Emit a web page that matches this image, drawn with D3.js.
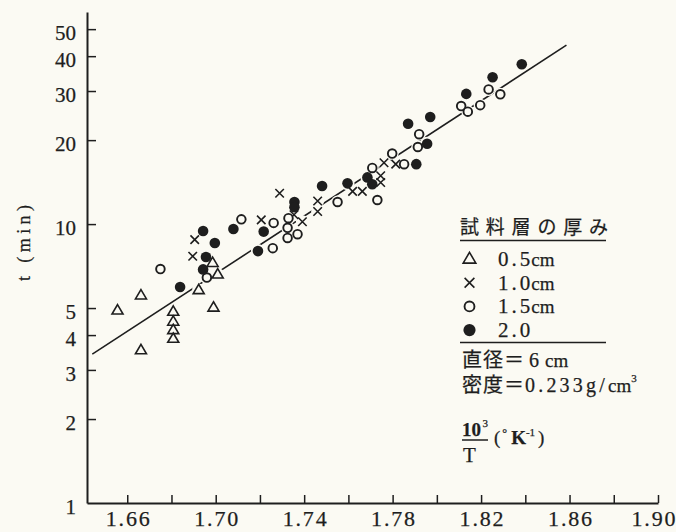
<!DOCTYPE html>
<html>
<head>
<meta charset="utf-8">
<script src="https://cdn.jsdelivr.net/npm/d3@7"></script>
<style>
  html, body { margin: 0; padding: 0; background: #fbfaf3; }
  svg { display: block; }
  text { fill: #1e1e1e; font-family: "Liberation Serif", "Noto Sans CJK JP", serif; stroke: #1e1e1e; stroke-width: 0.25px; }
</style>
</head>
<body>
<svg id="chart" width="676" height="532"></svg>
<script>
// ---------- data (10^3/T, t[min]) ----------
const series05 = [
  [1.6556, 4.9], [1.6662, 5.55], [1.6662, 3.53], [1.6808, 4.85], [1.6808, 4.47],
  [1.6808, 4.17], [1.6808, 3.88], [1.6923, 5.8], [1.6990, 5.02], [1.6986, 7.26], [1.7009, 6.6]
];
const series10 = [
  [1.6905, 8.8], [1.6896, 7.67], [1.7289, 12.9], [1.7206, 10.35], [1.7354, 10.8],
  [1.7392, 10.2], [1.7461, 12.1], [1.7461, 11.1], [1.7619, 13.1], [1.7663, 13.1],
  [1.7746, 14.1], [1.7746, 14.9], [1.7761, 16.6], [1.7814, 16.4]
];
const series15 = [
  [1.6750, 6.9], [1.6960, 6.43], [1.7116, 10.4], [1.7258, 8.2], [1.7262, 10.1],
  [1.7325, 8.92], [1.7325, 9.7], [1.7329, 10.5], [1.7370, 9.2], [1.7551, 12.0],
  [1.7708, 15.9], [1.7731, 12.2], [1.7798, 17.9], [1.7852, 16.4], [1.7914, 18.9],
  [1.7920, 21.0], [1.8110, 26.5], [1.8140, 25.3], [1.8196, 26.7], [1.8234, 30.4], [1.8287, 29.2]
];
const series20 = [
  [1.6839, 5.95], [1.6943, 9.44], [1.6956, 7.62], [1.6943, 6.88], [1.6996, 8.55],
  [1.7080, 9.6], [1.7191, 8.0], [1.7217, 9.4], [1.7356, 12.0], [1.7356, 11.5],
  [1.7481, 13.7], [1.7596, 14.0], [1.7686, 14.7], [1.7708, 13.9], [1.7870, 22.9],
  [1.7907, 16.4], [1.7956, 19.4], [1.7970, 24.2], [1.8133, 29.3], [1.8252, 33.6], [1.8384, 37.4]
];
const fitLine = [[1.6442, 3.42], [1.8586, 43.8]];

const xTicks = [1.66, 1.68, 1.70, 1.72, 1.74, 1.76, 1.78, 1.80, 1.82, 1.84, 1.86, 1.88, 1.90];
const xLabels = [1.66, 1.70, 1.74, 1.78, 1.82, 1.86, 1.90];
const yTicks = [1, 2, 3, 4, 5, 10, 20, 30, 40, 50];
const legendNums = ["0.5", "1.0", "1.5", "2.0"];
const legendUnits = ["cm", "cm", "cm", ""];

// ---------- scales ----------
const BG = "#fbfaf3", INK = "#1e1e1e";
const svg = d3.select("#chart");
const x = d3.scaleLinear().domain([1.6418, 1.90]).range([87, 658]);
const y = d3.scaleLog().domain([1, 57.6]).range([503, 12]);

// ---------- axes ----------
const xAxis = d3.axisBottom(x)
  .tickValues(xTicks)
  .tickSizeInner(-8).tickSizeOuter(0).tickPadding(8)
  .tickFormat(d => xLabels.some(v => Math.abs(v - d) < 1e-9) ? d3.format(".2f")(d) : "");
const gx = svg.append("g").attr("transform", `translate(0,${y(1)})`).call(xAxis);
gx.select(".domain").attr("stroke", INK).attr("stroke-width", 2);
gx.selectAll(".tick line").attr("stroke", INK).attr("stroke-width", 1.5);
gx.selectAll(".tick text")
  .attr("font-size", 22).attr("font-family", "Liberation Serif")
  .attr("fill", INK).attr("dy", "0.66em")
  .each(function(d) {
    if (!this.textContent) return;
    const t = d3.select(this).attr("textLength", 44).attr("lengthAdjust", "spacing");
    if (Math.abs(d - 1.90) < 1e-9) t.attr("text-anchor", "end").attr("x", 675 - x(d));
  });

const yAxis = d3.axisLeft(y)
  .tickValues(yTicks)
  .tickSizeInner(-9).tickSizeOuter(0).tickPadding(11)
  .tickFormat(d3.format("d"));
const gy = svg.append("g").attr("transform", `translate(${x(1.6418)},0)`).call(yAxis);
gy.select(".domain").attr("stroke", INK).attr("stroke-width", 2);
gy.selectAll(".tick line").attr("stroke", INK).attr("stroke-width", 1.5)
  .attr("display", d => d === 1 ? "none" : null);
gy.selectAll(".tick text")
  .attr("font-size", 21).attr("font-family", "Liberation Serif")
  .attr("fill", INK).attr("dy", "0.5em");

// y axis title
svg.append("text")
  .attr("transform", "translate(30,243) rotate(-90)")
  .attr("text-anchor", "middle")
  .attr("font-size", 18)
  .attr("textLength", 76).attr("lengthAdjust", "spacing")
  .text("t (min)");

// ---------- fit line ----------
svg.append("path")
  .datum(fitLine)
  .attr("d", d3.line().x(d => x(d[0])).y(d => y(d[1])))
  .attr("fill", "none").attr("stroke", INK).attr("stroke-width", 1.6);

// ---------- markers ----------
function triPath(s) { const h = s * 0.85; return `M0,${-h*0.62}L${s/2},${h*0.38}L${-s/2},${h*0.38}Z`; }
function crossPath(s) { const a = s / 2; return `M${-a},${-a}L${a},${a}M${-a},${a}L${a},${-a}`; }

const all = [
  { data: series05, type: "tri" }, { data: series10, type: "cross" },
  { data: series15, type: "open" }, { data: series20, type: "fill" }
];
const halo = svg.append("g");
all.forEach(s => {
  halo.selectAll(null).data(s.data).enter().append("circle")
    .attr("cx", d => x(d[0])).attr("cy", d => y(d[1]))
    .attr("r", s.type === "fill" ? 7 : 6.5).attr("fill", BG);
});

function drawMarker(g, type, cx, cy, k) {
  if (type === "tri") {
    g.append("path").attr("d", triPath(11 * k)).attr("transform", `translate(${cx},${cy})`)
      .attr("fill", BG).attr("stroke", INK).attr("stroke-width", 1.6).attr("stroke-linejoin", "miter");
  } else if (type === "cross") {
    g.append("path").attr("d", crossPath(8.5 * k)).attr("transform", `translate(${cx},${cy})`)
      .attr("fill", "none").attr("stroke", INK).attr("stroke-width", 1.6);
  } else if (type === "open") {
    g.append("circle").attr("cx", cx).attr("cy", cy).attr("r", 4.3 * k)
      .attr("fill", BG).attr("stroke", INK).attr("stroke-width", 1.9);
  } else {
    g.append("circle").attr("cx", cx).attr("cy", cy).attr("r", 5.3 * k).attr("fill", INK);
  }
}
const marks = svg.append("g");
all.forEach(s => s.data.forEach(d => drawMarker(marks, s.type, x(d[0]), y(d[1]), 1)));

// ---------- legend ----------
const lg = svg.append("g");
lg.append("text").attr("x", 460).attr("y", 234)
  .attr("font-family", "Noto Sans CJK JP").attr("font-size", 19)
  .attr("textLength", 148).attr("lengthAdjust", "spacing")
  .text("試料層の厚み");
lg.append("line").attr("x1", 460).attr("x2", 606).attr("y1", 240.5).attr("y2", 240.5)
  .attr("stroke", INK).attr("stroke-width", 1.5);
const types = ["tri", "cross", "open", "fill"];
legendNums.forEach((num, i) => {
  const by = 266 + i * 23.7;
  drawMarker(lg, types[i], 469.5, by - 7, 1.15);
  const t = lg.append("text").attr("x", 498).attr("y", by).attr("font-size", 21);
  t.append("tspan").attr("letter-spacing", 3).text(num);
  if (legendUnits[i]) t.append("tspan").attr("font-size", 19).attr("dx", -2).text(legendUnits[i]);
});
lg.append("line").attr("x1", 460).attr("x2", 606).attr("y1", 342.5).attr("y2", 342.5)
  .attr("stroke", INK).attr("stroke-width", 1.5);
const dia = lg.append("text").attr("x", 462).attr("y", 367).attr("font-size", 20);
dia.append("tspan").attr("letter-spacing", 1).text("直径＝");
dia.append("tspan").attr("dx", 4).text("6");
dia.append("tspan").attr("dx", 6).attr("font-size", 19).text("cm");
const den = lg.append("text").attr("x", 462).attr("y", 392).attr("font-size", 20);
den.append("tspan").attr("letter-spacing", 1).text("密度＝");
den.append("tspan").attr("letter-spacing", 3.2).text("0.233g/");
den.append("tspan").attr("font-size", 19).text("cm");
den.append("tspan").attr("font-size", 11).attr("dy", -10).text("3");

// 10^3 / T (°K^-1)
lg.append("text").attr("x", 462).attr("y", 436).attr("font-size", 19).attr("font-weight", "bold").text("10");
lg.append("text").attr("x", 482.5).attr("y", 427).attr("font-size", 11).text("3");
lg.append("line").attr("x1", 462).attr("x2", 488).attr("y1", 440).attr("y2", 440)
  .attr("stroke", INK).attr("stroke-width", 1.5);
lg.append("text").attr("x", 463).attr("y", 462).attr("font-size", 21).text("T");
const unit = lg.append("text").attr("x", 494).attr("y", 444).attr("font-size", 19);
unit.append("tspan").text("(");
unit.append("tspan").attr("font-size", 12).attr("dy", -7).attr("dx", 2).text("°");
unit.append("tspan").attr("font-size", 19).attr("dy", 7).attr("dx", 4).attr("font-weight", "bold").text("K");
unit.append("tspan").attr("font-size", 11).attr("dy", -8).text("-1");
unit.append("tspan").attr("font-size", 19).attr("dy", 8).attr("dx", 3).text(")");
</script>
</body>
</html>
